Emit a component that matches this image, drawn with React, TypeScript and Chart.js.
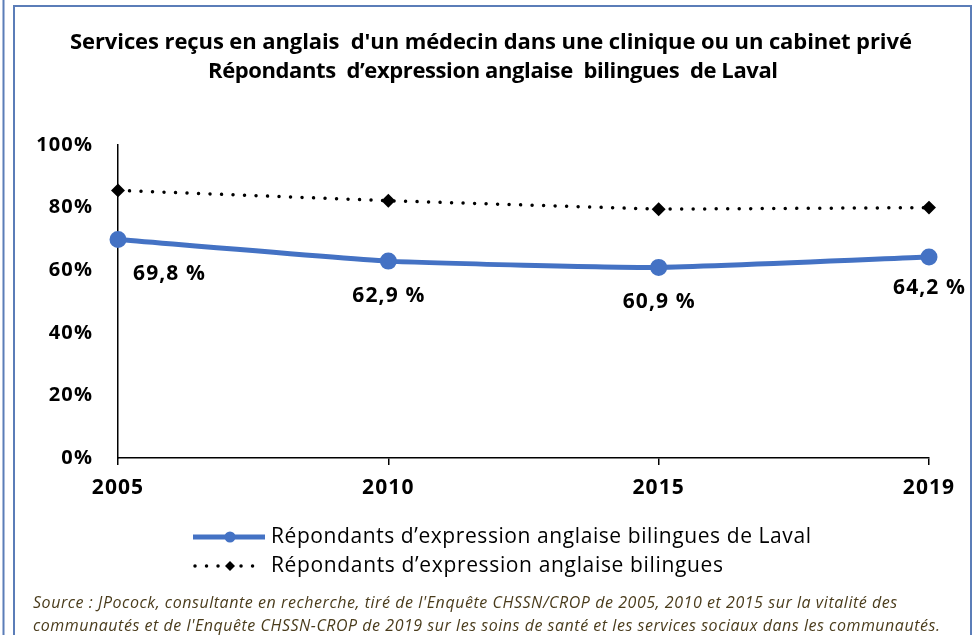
import React, { useEffect, useRef } from "react";
import { Chart, registerables } from "chart.js";
Chart.register(...registerables);

const categories = ["2005", "2010", "2015", "2019"];
const lavalValues = [69.8, 62.9, 60.9, 64.2];
const bilingualValues = [85.5, 82.2, 79.5, 80.0];
const lavalLabels = ["69,8 %", "62,9 %", "60,9 %", "64,2 %"];
const titleLines = [
  "Services reçus en anglais  d'un médecin dans une clinique ou un cabinet privé",
  "Répondants  d\u2019expression anglaise  bilingues  de Laval",
];
const legendLabels = [
  "Répondants d\u2019expression anglaise bilingues de Laval",
  "Répondants d\u2019expression anglaise bilingues",
];
const sourceLines = [
  "Source : JPocock, consultante en recherche, tiré de l'Enquête CHSSN/CROP de 2005, 2010 et 2015 sur la vitalité des",
  "communautés et de l'Enquête CHSSN-CROP de 2019 sur les soins de santé et les services sociaux dans les communautés.",
];

const FONT = "'Open Sans', sans-serif";
const BLUE = "#4472C4";
const FRAME = "#5B7DB8";
const labelDx = [51, 0, 0, 0];
const labelDy = [34, 35, 35, 31];

function fitText(ctx: any, text: string, x: number, y: number, target: number, align: "left" | "center") {
  ctx.letterSpacing = "0px";
  const w0 = ctx.measureText(text).width;
  const n = Array.from(text).length;
  const ls = n > 1 ? (target - w0) / (n - 1) : 0;
  ctx.letterSpacing = ls.toFixed(2) + "px";
  ctx.textAlign = "left";
  const left = align === "center" ? x - target / 2 : x;
  ctx.fillText(text, left, y);
  ctx.letterSpacing = "0px";
}

const decorPlugin = {
  id: "decor",
  beforeDraw(chart: any) {
    const ctx = chart.ctx;
    ctx.save();
    ctx.fillStyle = "#ffffff";
    ctx.fillRect(0, 0, chart.width, chart.height);
    ctx.strokeStyle = FRAME;
    ctx.lineWidth = 2;
    ctx.beginPath();
    ctx.moveTo(3.5, 0);
    ctx.lineTo(3.5, chart.height);
    ctx.moveTo(14, chart.height);
    ctx.lineTo(14, 6);
    ctx.lineTo(971, 6);
    ctx.lineTo(971, chart.height);
    ctx.stroke();
    // title
    ctx.fillStyle = "#000";
    ctx.font = `bold 22px ${FONT}`;
    ctx.textBaseline = "middle";
    fitText(ctx, titleLines[0], 491, 43, 842, "center");
    fitText(ctx, titleLines[1], 493, 72, 570, "center");
    ctx.restore();
    // letter spacing for axis tick labels (drawn by Chart.js next)
    ctx.letterSpacing = "1.1px";
  },
  beforeDatasetsDraw(chart: any) {
    chart.ctx.letterSpacing = "0px";
  },
  afterDatasetsDraw(chart: any) {
    const ctx = chart.ctx;
    ctx.save();
    const meta = chart.getDatasetMeta(0);
    ctx.fillStyle = "#000";
    ctx.font = `bold 21px ${FONT}`;
    ctx.textBaseline = "middle";
    meta.data.forEach((pt: any, i: number) => {
      fitText(ctx, lavalLabels[i], pt.x + labelDx[i], pt.y + labelDy[i], 72, "center");
    });
    // legend
    const ds = chart.data.datasets;
    let y = 537;
    ctx.strokeStyle = ds[0].borderColor;
    ctx.lineWidth = ds[0].borderWidth;
    ctx.lineCap = "butt";
    ctx.beginPath();
    ctx.moveTo(193, y);
    ctx.lineTo(265, y);
    ctx.stroke();
    ctx.fillStyle = ds[0].pointBackgroundColor;
    ctx.beginPath();
    ctx.arc(230, y, 5.5, 0, Math.PI * 2);
    ctx.fill();
    ctx.fillStyle = "#000";
    ctx.font = `21px ${FONT}`;
    fitText(ctx, legendLabels[0], 271, y, 540, "left");
    y = 566;
    ctx.strokeStyle = ds[1].borderColor;
    ctx.lineWidth = ds[1].borderWidth;
    ctx.lineCap = "round";
    ctx.setLineDash(ds[1].borderDash);
    ctx.beginPath();
    ctx.moveTo(195, y);
    ctx.lineTo(260, y);
    ctx.stroke();
    ctx.setLineDash([]);
    ctx.fillStyle = "#000";
    ctx.beginPath();
    ctx.moveTo(230, y - 5);
    ctx.lineTo(235, y);
    ctx.lineTo(230, y + 5);
    ctx.lineTo(225, y);
    ctx.closePath();
    ctx.fill();
    fitText(ctx, legendLabels[1], 271, y, 452, "left");
    // source
    ctx.fillStyle = "#4a3c1c";
    ctx.font = `italic 16px ${FONT}`;
    fitText(ctx, sourceLines[0], 33, 603, 864, "left");
    fitText(ctx, sourceLines[1], 33, 626, 907, "left");
    ctx.restore();
  },
};

export default function App() {
  const ref = useRef<HTMLCanvasElement | null>(null);
  useEffect(() => {
    if (!ref.current) return;
    const chart = new Chart(ref.current, {
      type: "line",
      data: {
        labels: categories,
        datasets: [
          {
            label: legendLabels[0],
            data: lavalValues,
            borderColor: BLUE,
            backgroundColor: BLUE,
            pointBackgroundColor: BLUE,
            pointBorderColor: BLUE,
            borderWidth: 5,
            pointRadius: 6,
            tension: 0.15,
          },
          {
            label: legendLabels[1],
            data: bilingualValues,
            borderColor: "#000",
            backgroundColor: "#000",
            pointBackgroundColor: "#000",
            pointBorderColor: "#000",
            borderWidth: 3.5,
            borderDash: [0.01, 11.5],
            borderCapStyle: "round",
            pointStyle: "rectRot",
            pointRadius: 4.5,
            tension: 0,
          },
        ],
      } as any,
      options: {
        animation: false,
        responsive: false,
        layout: { padding: { top: 145, right: 48, left: 0, bottom: 0 } },
        plugins: {
          legend: { display: false },
          title: { display: false },
          tooltip: { enabled: false },
        },
        scales: {
          x: {
            type: "category",
            offset: false,
            grid: {
              display: true,
              drawOnChartArea: false,
              drawTicks: true,
              tickLength: 7,
              color: "#000",
              lineWidth: 1.5,
            },
            border: { display: true, color: "#000", width: 1.5 },
            ticks: {
              color: "#000",
              font: { family: FONT, size: 21, weight: "bold" },
              padding: 10,
              maxRotation: 0,
            },
            afterFit(scale: any) {
              scale.height = 177;
            },
          },
          y: {
            min: 0,
            max: 100,
            ticks: {
              stepSize: 20,
              color: "#000",
              font: { family: FONT, size: 20, weight: "bold" },
              padding: 25,
              callback: (v: any) => v + "%",
            },
            grid: { display: false, drawTicks: false },
            border: { display: true, color: "#000", width: 1.5 },
            afterFit(scale: any) {
              scale.width = 118;
            },
          },
        },
      } as any,
      plugins: [decorPlugin],
    });
    return () => chart.destroy();
  }, []);
  return (
    <div style={{ position: "absolute", left: 0, top: 0, width: 977, height: 635, background: "#fff" }}>
      <canvas ref={ref} width={977} height={635} style={{ display: "block" }} />
    </div>
  );
}
